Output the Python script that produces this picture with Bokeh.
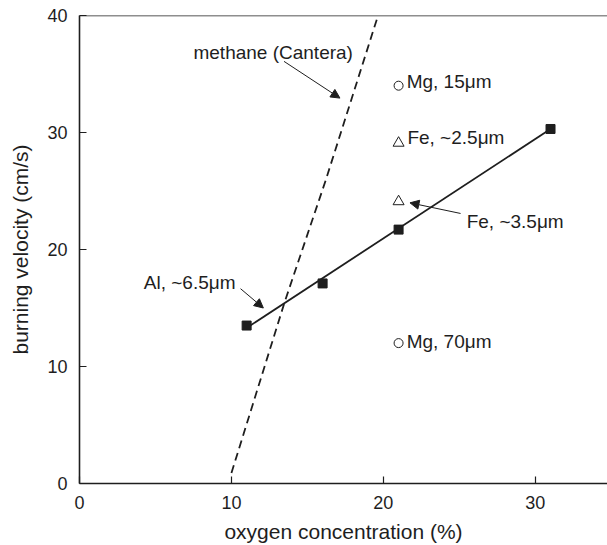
from bokeh.plotting import figure
from bokeh.models import FixedTicker, Range1d, Span, Arrow, NormalHead, ColumnDataSource
from bokeh.core.properties import value
from bokeh.embed import file_html
from bokeh.resources import INLINE

# --- data ---
al_x = [11, 16, 21, 31]
al_y = [13.5, 17.1, 21.7, 30.3]
fit_x = [11, 31]
fit_y = [13.3, 30.3]
methane_x = [10.0, 13.5, 16.2, 19.65]
methane_y = [0.9, 15.5, 25.9, 40.0]
mg_x = [21, 21]
mg_y = [34.0, 12.0]
fe_x = [21, 21]
fe_y = [29.1, 24.1]
x_ticks = [0, 10, 20, 30]
y_ticks = [0, 10, 20, 30, 40]

# annotation texts (data coords)
labels = ["methane (Cantera)", "Mg, 15\u03bcm", "Fe, ~2.5\u03bcm", "Fe, ~3.5\u03bcm", "Mg, 70\u03bcm", "Al, ~6.5\u03bcm"]
label_x = [7.5, 21.53, 21.58, 25.48, 21.53, 4.23]
label_y = [36.8, 34.36, 29.6, 22.37, 12.14, 17.17]
arrows = [  # (x_start, y_start, x_end, y_end)
    (13.46, 36.08, 17.14, 32.94),
    (10.6, 16.65, 12.1, 15.0),
    (25.08, 23.08, 21.75, 23.99),
]

INK = "#1e1e1e"
FONT = "Liberation Sans"

p = figure(width=607, height=545, output_backend="svg", toolbar_location=None,
           x_range=Range1d(0, 34.75), y_range=Range1d(0, 40),
           min_border_left=79, min_border_right=0, min_border_top=15, min_border_bottom=62)
p.outline_line_color = None
p.grid.visible = False
p.background_fill_color = "white"
p.border_fill_color = "white"

for ax in (p.xaxis[0], p.yaxis[0]):
    ax.major_tick_in = 7
    ax.major_tick_out = 0
    ax.minor_tick_line_color = None
    ax.axis_line_color = INK
    ax.axis_line_width = 1.6
    ax.major_tick_line_color = INK
    ax.major_tick_line_width = 1.2
    ax.major_label_text_font = FONT
    ax.major_label_text_font_size = "18px"
    ax.major_label_text_color = INK
    ax.axis_label_text_font = FONT
    ax.axis_label_text_font_size = "21px"
    ax.axis_label_text_font_style = "normal"
    ax.axis_label_text_color = INK

p.xaxis[0].ticker = FixedTicker(ticks=x_ticks)
p.yaxis[0].ticker = FixedTicker(ticks=y_ticks)
p.xaxis[0].axis_label = "oxygen concentration (%)"
p.yaxis[0].axis_label = "burning velocity (cm/s)"
p.xaxis[0].major_label_standoff = 12
p.xaxis[0].axis_label_standoff = 8
p.yaxis[0].major_label_standoff = 12
p.yaxis[0].axis_label_standoff = 12

p.add_layout(Span(location=40, dimension="width", line_color=INK, line_width=1.6))

p.line(methane_x, methane_y, line_color=INK, line_width=1.8, line_dash="8 5")
p.line(fit_x, fit_y, line_color=INK, line_width=1.8)
p.scatter(al_x, al_y, marker="square", size=9, fill_color=INK, line_color=INK)
p.scatter(mg_x, mg_y, marker="circle", size=9, fill_color=None, line_color=INK, line_width=1)
p.scatter(fe_x, fe_y, marker="triangle", size=11, fill_color=None, line_color=INK, line_width=1)

src = ColumnDataSource(dict(x=label_x, y=label_y, t=labels))
p.text(x="x", y="y", text="t", source=src, text_font=value(FONT), text_font_size="19px",
       text_color=INK, text_align="left", text_baseline="alphabetic")

for (xs, ys, xe, ye) in arrows:
    p.add_layout(Arrow(x_start=xs, y_start=ys, x_end=xe, y_end=ye, line_color=INK, line_width=1,
                       end=NormalHead(size=9, fill_color=INK, line_color=INK, line_width=1)))

open("out.html", "w").write(file_html(p, INLINE))
